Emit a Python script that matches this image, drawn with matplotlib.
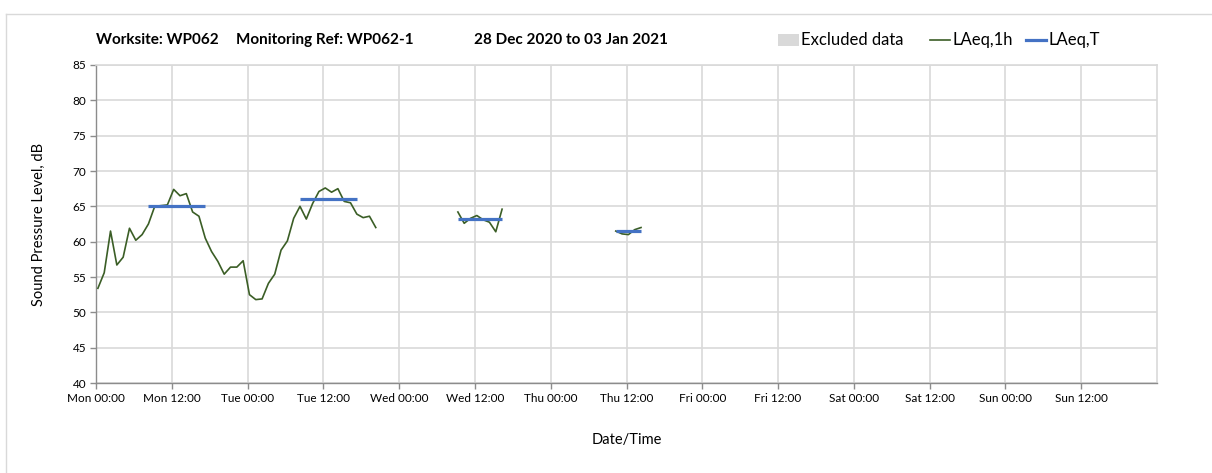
import matplotlib
matplotlib.use("Agg")
import matplotlib.pyplot as plt
from matplotlib.patches import Rectangle
from matplotlib.lines import Line2D
import numpy as np

plt.rcParams['font.family'] = ['Lato', 'DejaVu Sans']

# ---- data ----
tick_labels = ["Mon 00:00", "Mon 12:00", "Tue 00:00", "Tue 12:00", "Wed 00:00", "Wed 12:00",
               "Thu 00:00", "Thu 12:00", "Fri 00:00", "Fri 12:00", "Sat 00:00", "Sat 12:00",
               "Sun 00:00", "Sun 12:00"]
tick_hours = [0, 12, 24, 36, 48, 60, 72, 84, 96, 108, 120, 132, 144, 156]

seg1_hours = list(range(0, 45))
seg1_laeq1h = [53.4, 55.6, 61.5, 56.7, 57.8, 61.9, 60.2, 61.0, 62.5, 65.0,
               65.1, 65.2, 67.4, 66.5, 66.8, 64.2, 63.6, 60.5, 58.6, 57.2,
               55.4, 56.4, 56.4, 57.3, 52.5, 51.8, 51.9, 54.1, 55.4, 58.8,
               60.1, 63.3, 65.0, 63.2, 65.4, 67.1, 67.6, 67.0, 67.5, 65.7,
               65.5, 63.9, 63.4, 63.6, 62.0]
seg2_hours = list(range(57, 65))
seg2_laeq1h = [64.2, 62.6, 63.3, 63.7, 63.1, 62.75, 61.4, 64.6]
seg3_hours = list(range(82, 87))
seg3_laeq1h = [61.5, 61.1, 61.0, 61.7, 62.0]

laeqT_start = [8, 32, 57, 82]
laeqT_end = [17, 41, 64, 86]
laeqT_value = [65.1, 66.0, 63.2, 61.5]

title_parts = ["Worksite: WP062", "Monitoring Ref: WP062-1", "28 Dec 2020 to 03 Jan 2021"]
legend_labels = ["Excluded data", "LAeq,1h", "LAeq,T"]

# ---- figure ----
W, H = 1212, 473
fig = plt.figure(figsize=(W / 100, H / 100), dpi=100)
ax = fig.add_axes([96 / W, 1 - 383 / H, (1157 - 96) / W, (383 - 65) / H])

green = "#3b5e26"
blue = "#4472c4"
grid_c = "#d9d9d9"

for hrs, vals in [(seg1_hours, seg1_laeq1h), (seg2_hours, seg2_laeq1h), (seg3_hours, seg3_laeq1h)]:
    ax.plot(np.array(hrs) + 0.3, vals, color=green, lw=1.2, zorder=3)
ax.hlines(laeqT_value, np.array(laeqT_start) + 0.3, np.array(laeqT_end) + 0.3, color=blue, lw=2.3, zorder=4)

ax.set_xlim(0, 168)
ax.set_ylim(40, 85)
ax.set_yticks(np.arange(40, 86, 5))
ax.set_xticks(tick_hours)
ax.set_xticklabels(tick_labels)
ax.grid(True, color=grid_c, lw=1.2, zorder=0)
ax.set_axisbelow(True)
for s in ["top", "right"]:
    ax.spines[s].set_color(grid_c)
    ax.spines[s].set_linewidth(1.2)
for s in ["left", "bottom"]:
    ax.spines[s].set_color("#8c8c8c")
    ax.spines[s].set_linewidth(1.0)
ax.tick_params(axis="both", colors="#8c8c8c", labelcolor="#000000", labelsize=8.5, length=4, width=1)
ax.tick_params(axis="y", pad=3)
ax.tick_params(axis="x", pad=3)

ax.set_ylabel("Sound Pressure Level, dB", fontsize=10.5, labelpad=19)
ax.set_xlabel("Date/Time", fontsize=10.5, labelpad=21)

# title pieces
for xpix, txt in zip([96, 236, 474], title_parts):
    fig.text(xpix / W, 1 - 40 / H, txt, fontsize=11, fontweight="bold", va="center", ha="left")

# legend drawn in figure pixels
ly = 1 - 40 / H
fig.add_artist(Rectangle((778 / W, 1 - 46 / H), 21 / W, 12 / H, transform=fig.transFigure,
                         facecolor="#d9d9d9", edgecolor="none"))
fig.text(801 / W, ly, legend_labels[0], fontsize=12, va="center", ha="left")
fig.add_artist(Line2D([930 / W, 950 / W], [ly, ly], transform=fig.transFigure, color=green, lw=1.2))
fig.text(952 / W, ly, legend_labels[1], fontsize=12, va="center", ha="left")
fig.add_artist(Line2D([1026 / W, 1046 / W], [ly, ly], transform=fig.transFigure, color=blue, lw=2.3))
fig.text(1048 / W, ly, legend_labels[2], fontsize=12, va="center", ha="left")

# chart-area border
fig.add_artist(Line2D([6 / W, 1], [1 - 14 / H, 1 - 14 / H], transform=fig.transFigure, color=grid_c, lw=1))
fig.add_artist(Line2D([6 / W, 6 / W], [0, 1 - 14 / H], transform=fig.transFigure, color=grid_c, lw=1))

fig.savefig("out.png", dpi=100)
